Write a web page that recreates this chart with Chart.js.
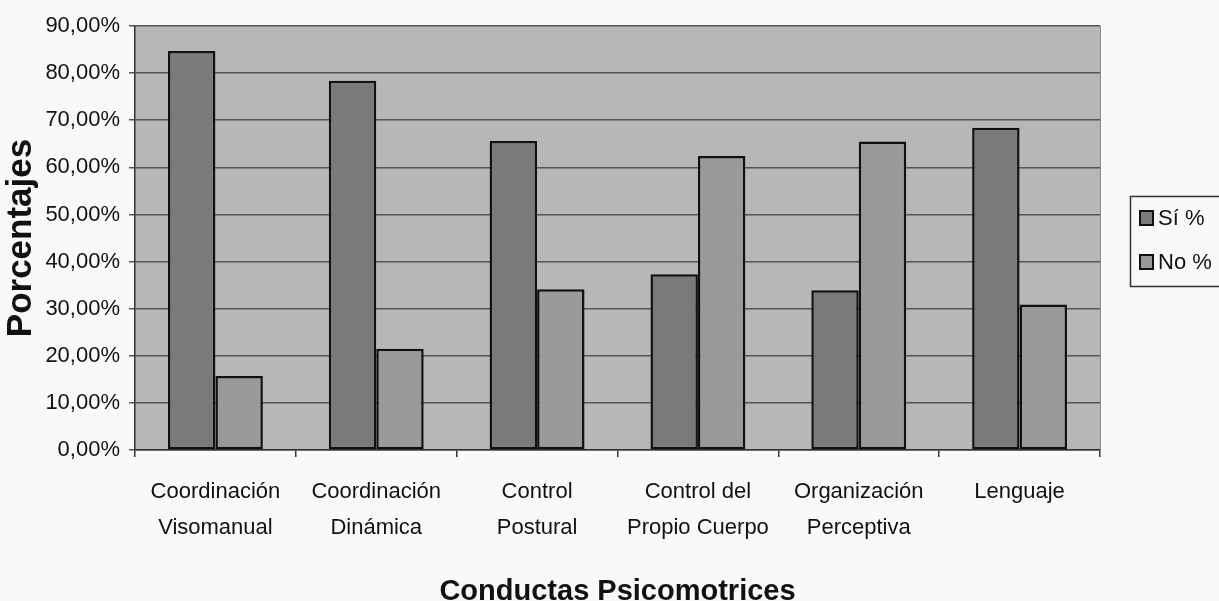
<!DOCTYPE html>
<html><head><meta charset="utf-8">
<script src="https://cdn.jsdelivr.net/npm/chart.js@4.4.1/dist/chart.umd.min.js"></script>
<style>html,body{margin:0;padding:0;background:#f9f9f9;} #wrap{width:1219px;height:601px;position:relative;}</style>
</head><body><div id="wrap"><canvas id="c"></canvas></div>
<script>
const categories = [["Coordinación","Visomanual"],["Coordinación","Dinámica"],["Control","Postural"],["Control del","Propio Cuerpo"],["Organización","Perceptiva"],["Lenguaje"]];
const seriesNames = ["Sí %","No %"];
const siValues = [84.7, 78.4, 65.6, 37.3, 33.9, 68.4];
const noValues = [15.7, 21.5, 34.1, 62.4, 65.5, 30.9];
const yMin = 0, yMax = 90, yStep = 10;
const xTitle = "Conductas Psicomotrices";
const yTitle = "Porcentajes";

const FONT = "'Liberation Sans', Arial, sans-serif";
const INK = "#111";

const plotBg = {
  id: 'plotBg',
  beforeDraw(chart) {
    const {ctx, chartArea: a} = chart;
    ctx.save();
    ctx.fillStyle = '#b7b7b7';
    ctx.fillRect(a.left, a.top, a.right - a.left, a.bottom - a.top);
    ctx.strokeStyle = '#8a8a8a';
    ctx.lineWidth = 1;
    ctx.beginPath();
    ctx.moveTo(a.right + 0.5, a.top);
    ctx.lineTo(a.right + 0.5, a.bottom);
    ctx.stroke();
    ctx.restore();
  }
};

const boxLegend = {
  id: 'boxLegend',
  afterDraw(chart) {
    const ctx = chart.ctx;
    ctx.save();
    ctx.strokeStyle = '#333';
    ctx.lineWidth = 1.5;
    ctx.strokeRect(1130.5, 196.5, 120, 90);
    ctx.font = "22px " + FONT;
    ctx.textBaseline = 'middle';
    chart.data.datasets.forEach((ds, i) => {
      const cy = 218 + i * 44;
      ctx.fillStyle = ds.backgroundColor;
      ctx.fillRect(1140, cy - 7, 13, 14);
      ctx.strokeStyle = '#111';
      ctx.lineWidth = 2;
      ctx.strokeRect(1140, cy - 7, 13, 14);
      ctx.fillStyle = INK;
      ctx.fillText(ds.label, 1158, cy + 1);
    });
    ctx.restore();
  }
};

new Chart(document.getElementById('c'), {
  type: 'bar',
  data: {
    labels: categories,
    datasets: [
      {label: seriesNames[0], data: siValues, backgroundColor: '#7a7a7a', borderColor: '#111', borderWidth: 2.5, borderSkipped: false},
      {label: seriesNames[1], data: noValues, backgroundColor: '#9a9a9a', borderColor: '#111', borderWidth: 2.5, borderSkipped: false}
    ]
  },
  options: {
    responsive: true,
    maintainAspectRatio: false,
    animation: false,
    layout: {padding: {left: 0, right: 119, top: 26, bottom: 0}},
    datasets: {bar: {categoryPercentage: 0.59, barPercentage: 1.0}},
    plugins: {legend: {display: false}, tooltip: {enabled: false}},
    scales: {
      x: {
        afterFit(s) { s.height = 151; },
        grid: {offset: true, drawOnChartArea: false, drawTicks: true, tickLength: 7, color: '#333', lineWidth: 1.5},
        border: {display: true, color: '#333', width: 1.5},
        ticks: {color: INK, font: {family: FONT, size: 22, lineHeight: 1.64}, padding: 17, maxRotation: 0, autoSkip: false},
        title: {display: true, text: xTitle, color: INK, font: {family: FONT, size: 29, weight: 'bold', lineHeight: 0.6}, padding: 0}
      },
      y: {
        min: yMin, max: yMax,
        afterFit(s) { s.width = 135; },
        grid: {color: '#555', lineWidth: 1.5, tickLength: 6},
        border: {display: true, color: '#333', width: 1.5},
        ticks: {stepSize: yStep, color: INK, font: {family: FONT, size: 22}, padding: 9,
          callback: v => v.toFixed(2).replace('.', ',') + '%'},
        title: {display: true, text: yTitle, color: INK, font: {family: FONT, size: 35, weight: 'bold', lineHeight: 1.0}, padding: {top: 4, bottom: 0}}
      }
    }
  },
  plugins: [plotBg, boxLegend]
});
</script>
</body></html>
